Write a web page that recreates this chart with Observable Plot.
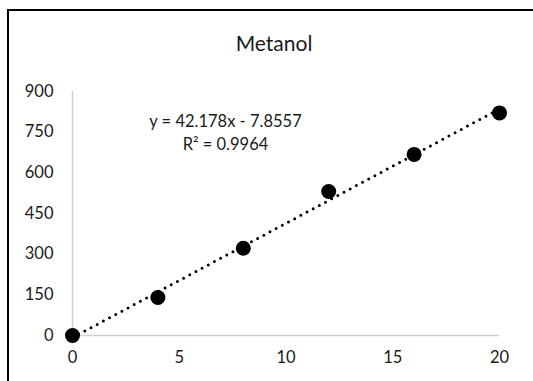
<!DOCTYPE html>
<html>
<head>
<meta charset="utf-8">
<script src="https://cdn.jsdelivr.net/npm/d3@7"></script>
<script src="https://cdn.jsdelivr.net/npm/@observablehq/plot@0.6"></script>
<style>
  html, body { margin: 0; padding: 0; background: #fff; }
  #chart { position: relative; width: 533px; height: 381px; overflow: hidden; font-family: Lato, "Open Sans", sans-serif; }
  #frame { position: absolute; left: 7px; top: 9px; width: 600px; height: 500px; border-left: 2px solid #000; border-top: 2px solid #000; }
  #title { position: absolute; left: 0; width: 548px; top: 30px; text-align: center; font-size: 21px; color: #1a1a1a; }
  #chart svg { position: absolute; left: 0; top: 0; }
</style>
</head>
<body>
<div id="chart">
  <div id="frame"></div>
  <div id="title">Metanol</div>
</div>
<script>
// Methanol calibration: concentration vs. signal
const concentration = [0, 4, 8, 12, 16, 20];
const signal = [0, 140, 322, 531, 668, 821];

// Linear trendline as reported
const slope = 42.178;
const intercept = -7.8557;
const rSquared = 0.9964;
const trendRange = [0, 20];

const xTicks = [0, 5, 10, 15, 20];
const yTicks = [0, 150, 300, 450, 600, 750, 900];

const points = concentration.map((x, i) => ({x, y: signal[i]}));
const trend = trendRange.map(x => ({x, y: slope * x + intercept}));
const equation = `y = ${slope}x - ${Math.abs(intercept)}\nR² = ${rSquared}`;

const axisColor = "#d0d0d0";
const textColor = "#1a1a1a";

const plot = Plot.plot({
  width: 533,
  height: 381,
  marginLeft: 72,
  marginRight: 34,
  marginTop: 91,
  marginBottom: 46,
  style: {fontFamily: "Lato, 'Open Sans', sans-serif", fontSize: "16.5px", color: textColor, background: "transparent", overflow: "visible"},
  x: {domain: [0, 20]},
  y: {domain: [0, 900]},
  marks: [
    Plot.ruleX([0], {stroke: axisColor, strokeWidth: 1.5}),
    Plot.ruleY([0], {stroke: axisColor, strokeWidth: 1.5}),
    Plot.axisX(xTicks, {tickSize: 0, tickPadding: 16, label: null, fontSize: 16.5}),
    Plot.axisY(yTicks, {tickSize: 0, tickPadding: 19, label: null, fontSize: 16.5}),
    Plot.line(trend, {x: "x", y: "y", stroke: "#000", strokeWidth: 3, strokeDasharray: "0 7", strokeLinecap: "round"}),
    Plot.dot(points, {x: "x", y: "y", r: 7.5, fill: "#000", stroke: "none"}),
    Plot.text([equation], {frameAnchor: "top-left", dx: 153, dy: 40, text: d => d, textAnchor: "middle", lineAnchor: "middle", lineHeight: 1.36, fontSize: 16.5, fill: textColor})
  ]
});

document.getElementById("chart").appendChild(plot);
</script>
</body>
</html>
